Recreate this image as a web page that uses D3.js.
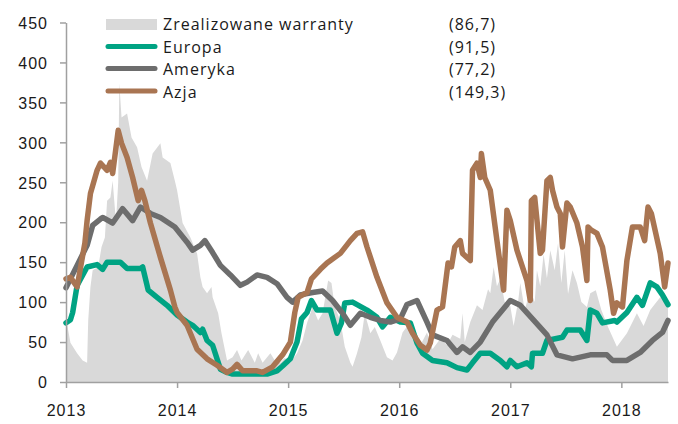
<!DOCTYPE html>
<html>
<head>
<meta charset="utf-8">
<script src="https://cdn.jsdelivr.net/npm/d3@7"></script>
<style>
  body { margin: 0; background: #fff; }
  svg { display: block; font-family: "Open Sans", sans-serif; }
  .axis text { font-size: 16px; letter-spacing: 1px; fill: #1a1a1a; }
  .axis path, .axis line { stroke: #a0a0a0; stroke-width: 1.5px; }
  .legend text { font-size: 16px; letter-spacing: 1px; fill: #1a1a1a; }
</style>
</head>
<body>
<svg id="chart" width="678" height="424"></svg>
<script>
// values: [decimal year, value]
const warranty = [
  [2013.00,80],[2013.04,49],[2013.10,36],[2013.15,27],[2013.19,24],[2013.20,77],[2013.22,119],
  [2013.24,140],[2013.29,144],[2013.32,169],[2013.35,181],[2013.37,227],[2013.40,231],[2013.42,252],
  [2013.45,200],[2013.47,250],[2013.48,374],[2013.50,331],[2013.55,336],[2013.59,306],[2013.64,294],
  [2013.68,269],[2013.73,252],[2013.78,286],[2013.85,299],[2013.87,281],[2013.94,274],[2013.98,252],
  [2014.00,240],[2014.05,199],[2014.12,181],[2014.18,161],[2014.21,131],[2014.23,119],[2014.27,111],
  [2014.31,119],[2014.32,106],[2014.37,86],[2014.40,61],[2014.45,27],[2014.50,31],[2014.54,40],
  [2014.58,27],[2014.64,40],[2014.70,24],[2014.73,36],[2014.77,24],[2014.84,36],[2014.88,27],
  [2014.93,24],[2014.97,30],[2015.02,24],[2015.08,36],[2015.13,52],[2015.17,74],[2015.22,94],
  [2015.27,77],[2015.31,86],[2015.36,127],[2015.39,124],[2015.42,94],[2015.47,77],[2015.51,44],
  [2015.56,24],[2015.58,19],[2015.62,36],[2015.66,56],[2015.69,86],[2015.74,61],[2015.78,69],
  [2015.83,52],[2015.89,31],[2015.94,27],[2015.98,37],[2016.03,62],[2016.10,75],[2016.12,54],
  [2016.19,46],[2016.25,62],[2016.30,41],[2016.37,54],[2016.43,46],[2016.48,59],[2016.55,54],
  [2016.57,86],[2016.59,50],[2016.64,75],[2016.70,96],[2016.75,90],[2016.80,116],[2016.82,111],
  [2016.85,144],[2016.88,120],[2016.91,129],[2016.95,100],[2017.00,95],[2017.03,70],[2017.07,100],
  [2017.09,124],[2017.13,90],[2017.18,115],[2017.22,100],[2017.24,140],[2017.27,120],[2017.30,160],
  [2017.33,130],[2017.36,165],[2017.40,140],[2017.43,174],[2017.46,124],[2017.49,165],[2017.52,110],
  [2017.56,140],[2017.60,124],[2017.64,100],[2017.69,94],[2017.72,111],[2017.77,115],[2017.82,90],
  [2017.88,69],[2017.96,44],[2018.05,61],[2018.14,86],[2018.20,70],[2018.26,90],[2018.35,106],
  [2018.42,104]
];

const europa = [
  [2013.00,74],[2013.04,78],[2013.06,87],[2013.10,121],[2013.19,144],[2013.28,147],[2013.33,141],
  [2013.37,150],[2013.49,150],[2013.55,142],[2013.67,142],[2013.69,144],[2013.74,115],[2013.82,106],
  [2013.91,96],[2014.00,84],[2014.09,75],[2014.14,71],[2014.21,62],[2014.23,66],[2014.27,52],
  [2014.32,46],[2014.39,16],[2014.45,12],[2014.50,10],[2014.81,10],[2014.90,14],[2014.95,20],
  [2015.02,29],[2015.08,50],[2015.12,79],[2015.17,87],[2015.21,102],[2015.26,90],[2015.38,90],
  [2015.44,61],[2015.48,74],[2015.51,99],[2015.58,100],[2015.71,90],[2015.80,81],[2015.85,69],
  [2015.92,81],[2016.01,75],[2016.10,74],[2016.16,49],[2016.21,36],[2016.30,27],[2016.43,24],
  [2016.52,18],[2016.61,15],[2016.66,24],[2016.73,36],[2016.82,36],[2016.91,27],[2016.97,19],
  [2017.00,27],[2017.06,19],[2017.15,24],[2017.19,19],[2017.20,36],[2017.29,36],[2017.33,52],
  [2017.47,56],[2017.51,65],[2017.63,65],[2017.69,52],[2017.72,90],[2017.78,86],[2017.83,74],
  [2017.94,77],[2017.96,75],[2018.05,87],[2018.14,106],[2018.19,96],[2018.26,124],[2018.32,119],
  [2018.37,109],[2018.42,97]
];

const ameryka = [
  [2013.00,118],[2013.10,146],[2013.19,171],[2013.24,196],[2013.31,204],[2013.33,206],[2013.42,199],
  [2013.51,217],[2013.60,202],[2013.67,219],[2013.76,211],[2013.85,206],[2013.98,194],[2014.09,175],
  [2014.14,165],[2014.21,171],[2014.25,177],[2014.32,162],[2014.39,146],[2014.48,134],[2014.57,121],
  [2014.63,125],[2014.72,134],[2014.81,131],[2014.90,123],[2014.99,106],[2015.04,100],[2015.11,109],
  [2015.22,112],[2015.31,114],[2015.40,102],[2015.49,86],[2015.56,71],[2015.65,86],[2015.74,81],
  [2015.83,77],[2015.92,75],[2016.01,79],[2016.07,97],[2016.16,102],[2016.25,75],[2016.30,59],
  [2016.43,52],[2016.52,37],[2016.57,44],[2016.64,37],[2016.73,50],[2016.84,75],[2017.00,102],
  [2017.09,96],[2017.20,79],[2017.33,59],[2017.42,34],[2017.56,29],[2017.72,34],[2017.87,34],
  [2017.92,27],[2018.05,27],[2018.17,37],[2018.28,52],[2018.37,62],[2018.42,77]
];

const azja = [
  [2013.00,129],[2013.04,131],[2013.10,119],[2013.17,174],[2013.19,202],[2013.22,236],[2013.28,265],
  [2013.31,274],[2013.37,265],[2013.40,275],[2013.42,261],[2013.47,315],[2013.50,299],[2013.55,281],
  [2013.60,256],[2013.65,227],[2013.68,240],[2013.71,227],[2013.76,199],[2013.85,156],[2013.94,115],
  [2013.98,94],[2014.00,87],[2014.09,71],[2014.18,41],[2014.27,29],[2014.36,21],[2014.45,12],
  [2014.50,16],[2014.54,22],[2014.59,14],[2014.72,14],[2014.77,12],[2014.86,19],[2014.95,34],
  [2015.02,50],[2015.06,87],[2015.09,106],[2015.17,112],[2015.21,129],[2015.29,141],[2015.35,149],
  [2015.47,161],[2015.56,177],[2015.62,186],[2015.67,188],[2015.71,169],[2015.80,131],[2015.89,99],
  [2015.98,81],[2016.07,75],[2016.12,61],[2016.19,46],[2016.25,40],[2016.28,49],[2016.34,90],
  [2016.39,94],[2016.44,149],[2016.47,144],[2016.50,169],[2016.55,177],[2016.57,161],[2016.64,152],
  [2016.66,265],[2016.70,274],[2016.73,256],[2016.74,286],[2016.77,256],[2016.82,240],[2016.88,177],
  [2016.92,136],[2016.94,115],[2016.97,215],[2017.00,202],[2017.06,165],[2017.15,127],[2017.18,102],
  [2017.19,227],[2017.22,231],[2017.27,161],[2017.29,165],[2017.33,252],[2017.36,256],[2017.38,240],
  [2017.42,219],[2017.45,211],[2017.47,169],[2017.51,224],[2017.54,219],[2017.60,199],[2017.65,169],
  [2017.69,127],[2017.70,194],[2017.73,190],[2017.78,186],[2017.83,169],[2017.90,115],[2017.93,86],
  [2017.96,99],[2018.01,94],[2018.05,152],[2018.10,194],[2018.17,194],[2018.21,177],[2018.24,219],
  [2018.27,211],[2018.35,161],[2018.39,119],[2018.42,149]
];

const legendNames = ["Zrealizowane warranty", "Europa", "Ameryka", "Azja"];
const legendValues = ["(86,7)", "(91,5)", "(77,2)", "(149,3)"];
const yearTicks = [2013, 2014, 2015, 2016, 2017, 2018];
const yTicks = [0, 50, 100, 150, 200, 250, 300, 350, 400, 450];

const colors = {area: "#d9d9d9", europa: "#00a383", ameryka: "#6d6d6d", azja: "#a97552"};

const svg = d3.select("#chart");

const x = d3.scaleLinear().domain([2013, 2018.42]).range([66, 668]);
const y = d3.scaleLinear().domain([0, 450]).range([382, 22.5]);

// area
const area = d3.area()
  .x(d => x(d[0]))
  .y0(y(0))
  .y1(d => y(d[1]));

svg.append("path")
  .datum(warranty)
  .attr("d", area)
  .attr("fill", colors.area);

// lines
const line = d3.line()
  .x(d => x(d[0]))
  .y(d => y(d[1]));

[[europa, colors.europa], [ameryka, colors.ameryka], [azja, colors.azja]].forEach(s => {
  svg.append("path")
    .datum(s[0])
    .attr("d", line)
    .attr("fill", "none")
    .attr("stroke", s[1])
    .attr("stroke-width", 5.5)
    .attr("stroke-linejoin", "round")
    .attr("stroke-linecap", "round");
});

// axes
svg.append("g")
  .attr("class", "axis")
  .attr("transform", "translate(66,0)")
  .call(d3.axisLeft(y).tickValues(yTicks).tickSize(6).tickSizeOuter(0).tickPadding(12))
  .call(g => g.selectAll("text").attr("dy", "0.36em"));

svg.append("g")
  .attr("class", "axis")
  .attr("transform", "translate(0,382)")
  .call(d3.axisBottom(x).tickValues(yearTicks).tickFormat(d3.format("d")).tickSize(6).tickSizeOuter(0).tickPadding(17));

// legend
const legend = svg.append("g").attr("class", "legend");
const rowY = [30, 53, 75, 97.5];

legend.append("rect")
  .attr("x", 106).attr("y", 19).attr("width", 51).attr("height", 11)
  .attr("fill", colors.area);

[colors.europa, colors.ameryka, colors.azja].forEach((c, i) => {
  legend.append("line")
    .attr("x1", 108).attr("x2", 155)
    .attr("y1", rowY[i + 1] - 6.5).attr("y2", rowY[i + 1] - 6.5)
    .attr("stroke", c)
    .attr("stroke-width", 5)
    .attr("stroke-linecap", "round");
});

legend.selectAll("text.name")
  .data(legendNames)
  .join("text")
  .attr("class", "name")
  .attr("x", 163)
  .attr("y", (d, i) => rowY[i])
  .text(d => d);

legend.selectAll("text.val")
  .data(legendValues)
  .join("text")
  .attr("class", "val")
  .attr("x", 449)
  .attr("y", (d, i) => rowY[i])
  .text(d => d);
</script>
</body>
</html>
